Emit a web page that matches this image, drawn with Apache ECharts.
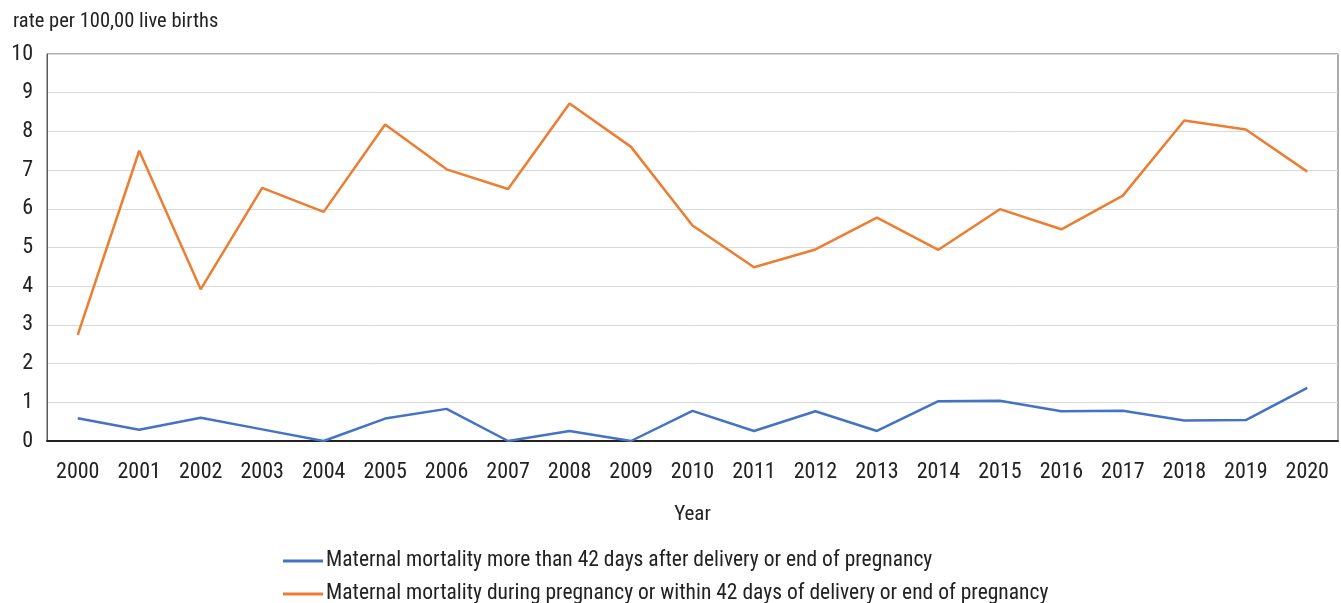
<!DOCTYPE html>
<html>
<head>
<meta charset="utf-8">
<script src="https://cdn.jsdelivr.net/npm/echarts@6/dist/echarts.min.js"></script>
<style>
  html, body { margin: 0; padding: 0; background: #fff; }
  #chart { width: 1341px; height: 603px; }
</style>
</head>
<body>
<div id="chart"></div>
<script>
const years = ['2000', '2001', '2002', '2003', '2004', '2005', '2006', '2007', '2008', '2009', '2010',
  '2011', '2012', '2013', '2014', '2015', '2016', '2017', '2018', '2019', '2020'];
const lateDeaths = [0.59, 0.29, 0.60, 0.30, 0, 0.58, 0.83, 0, 0.26, 0, 0.78,
  0.26, 0.77, 0.26, 1.03, 1.04, 0.77, 0.78, 0.53, 0.54, 1.37];
const earlyDeaths = [2.74, 7.50, 3.92, 6.54, 5.92, 8.18, 7.02, 6.51, 8.72, 7.60, 5.57,
  4.49, 4.95, 5.77, 4.94, 5.99, 5.47, 6.34, 8.28, 8.05, 6.96];
const seriesNames = [
  'Maternal mortality more than 42 days after delivery or end of pregnancy',
  'Maternal mortality during pregnancy or within 42 days of delivery or end of pregnancy'
];

const font = '"Liberation Sans Narrow", "Roboto Condensed", "Arial Narrow", Roboto, sans-serif';

function legendFor(name, top) {
  return {
    left: 278,
    top: top,
    itemWidth: 40,
    itemHeight: 3,
    icon: 'rect',
    data: [name],
    textStyle: { fontFamily: font, fontSize: 21.5, color: '#222', padding: [0, 0, 0, -2] }
  };
}

let chart = echarts.init(document.getElementById('chart'));
let option = {
  backgroundColor: '#fff',
  animation: false,
  textStyle: { fontFamily: font, color: '#222' },
  title: {
    text: 'rate per 100,00 live births',
    left: 8,
    top: 6,
    textStyle: { fontFamily: font, fontSize: 20.5, fontWeight: 'normal', color: '#222' }
  },
  legend: [legendFor(seriesNames[0], 545), legendFor(seriesNames[1], 578)],
  grid: {
    left: 47,
    right: 3,
    top: 54,
    bottom: 162,
    show: true,
    borderColor: '#595959',
    borderWidth: 1
  },
  xAxis: {
    type: 'category',
    data: years,
    boundaryGap: true,
    name: 'Year',
    nameLocation: 'middle',
    nameGap: 63,
    nameTextStyle: { fontFamily: font, fontSize: 21, color: '#222' },
    axisLine: { lineStyle: { color: '#222', width: 2 } },
    axisTick: { show: false },
    axisLabel: { fontFamily: font, fontSize: 22, color: '#222', margin: 20 }
  },
  yAxis: {
    type: 'value',
    min: 0,
    max: 10,
    interval: 1,
    axisLine: { show: true, lineStyle: { color: '#595959', width: 1 } },
    axisTick: { show: false },
    axisLabel: { fontFamily: font, fontSize: 22, color: '#222', margin: 14 },
    splitLine: { lineStyle: { color: '#d9d9d9', width: 1 } }
  },
  series: [
    {
      name: seriesNames[0],
      type: 'line',
      data: lateDeaths,
      symbol: 'none',
      lineStyle: { color: '#4472C4', width: 2.5 },
      itemStyle: { color: '#4472C4' }
    },
    {
      name: seriesNames[1],
      type: 'line',
      data: earlyDeaths,
      symbol: 'none',
      lineStyle: { color: '#ED7D31', width: 2.5 },
      itemStyle: { color: '#ED7D31' }
    }
  ]
};
option && chart.setOption(option);
</script>
</body>
</html>
